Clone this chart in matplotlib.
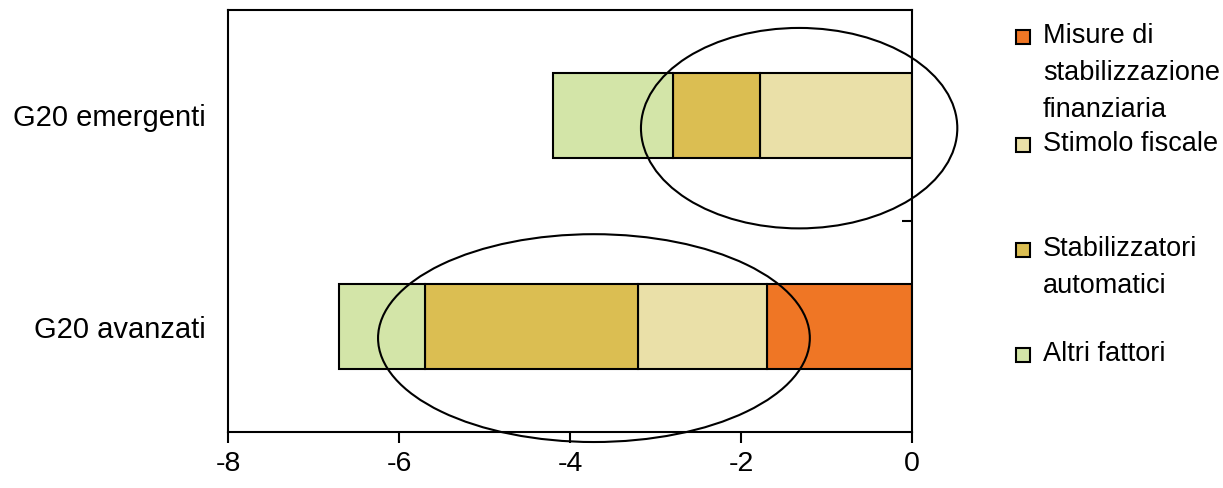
import numpy as np
import matplotlib.pyplot as plt
from matplotlib.patches import Ellipse, Rectangle

plt.rcParams["font.family"] = ["Liberation Sans", "DejaVu Sans"]

# dati
paesi = ["G20 avanzati", "G20 emergenti"]
componenti = ["Misure di\nstabilizzazione\nfinanziaria", "Stimolo fiscale",
              "Stabilizzatori\nautomatici", "Altri fattori"]
misure = [-1.7, 0.0]
stimolo = [-1.5, -1.78]
stabilizzatori = [-2.5, -1.02]
altri = [-1.0, -1.4]
colori = ["#EF7625", "#EAE0A8", "#DBBE52", "#D3E5A8"]

fig = plt.figure(figsize=(12.23, 4.88), dpi=100)
ax = fig.add_axes([228 / 1223, 1 - 432 / 488, 684 / 1223, 422 / 488])

y = np.arange(len(paesi))
base = np.zeros(len(paesi))
for vals, c in zip([misure, stimolo, stabilizzatori, altri], colori):
    ax.barh(y, vals, left=base, height=0.4, color=c, edgecolor="black", linewidth=1.5)
    base = base + np.array(vals)

# ellissi
ax.add_patch(Ellipse((-1.32, 0.94), 3.7, 0.95, fill=False, lw=1.5, ec="black", clip_on=False))
ax.add_patch(Ellipse((-3.72, -0.055), 5.05, 0.985, fill=False, lw=1.5, ec="black", clip_on=False))

ax.set_xlim(-8, 0)
ax.set_ylim(-0.5, 1.5)
ax.set_xticks([-8, -6, -4, -2, 0])
ax.set_xticklabels(["-8", "-6", "-4", "-2", "0"])
ax.set_yticks(y)
ax.set_yticklabels(paesi)
ax.set_yticks([0.5], minor=True)
ax.tick_params(axis="x", direction="out", length=8, width=1.5, labelsize=20.5, pad=6)
ax.tick_params(axis="y", which="major", length=0, labelsize=21, pad=16)
ax.tick_params(axis="y", which="minor", left=False, right=True, direction="in", length=7, width=1.5)
for s in ax.spines.values():
    s.set_linewidth(1.5)

# legenda
leg_y = [37, 145, 250, 355]
for lab, c, yy in zip(componenti, colori, leg_y):
    fig.patches.append(Rectangle((1016 / 1223, 1 - (yy + 7) / 488), 14 / 1223, 14 / 488,
                                 transform=fig.transFigure, fc=c, ec="black", lw=1.5))
    fig.text(1043 / 1223, 1 - (yy - 14) / 488, lab, fontsize=19.5, va="top", ha="left",
             linespacing=1.55)

fig.savefig("out.png", dpi=100)
